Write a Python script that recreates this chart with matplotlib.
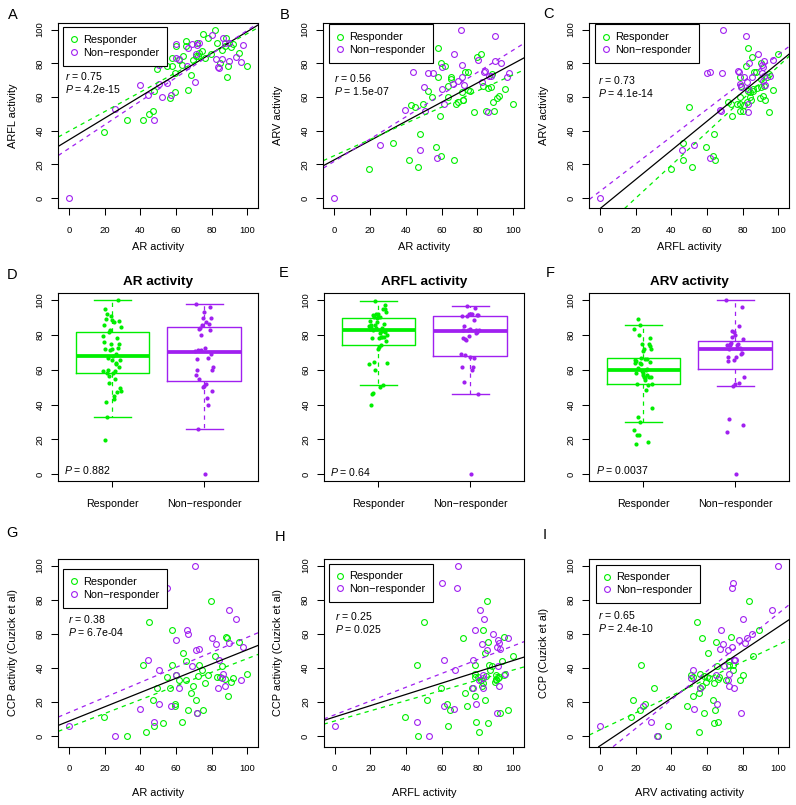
import numpy as np
import matplotlib
matplotlib.use('Agg')
import matplotlib.pyplot as plt
from matplotlib.lines import Line2D

plt.rcParams['font.family'] = ['Liberation Sans', 'DejaVu Sans']
plt.rcParams['mathtext.fontset'] = 'custom'
plt.rcParams['mathtext.rm'] = 'Liberation Sans'
plt.rcParams['mathtext.it'] = 'Liberation Sans:italic'

GREEN = '#00EE00'
PURPLE = '#A020F0'

# ---------------- data (per patient) ----------------
resp_AR = [79.6, 44.9, 57.9, 88.0, 88.4, 95.1, 63.7, 81.8, 65.4, 57.9, 41.6, 72.8, 74.7, 85.6, 54.7,
           59.7, 61.8, 65.4, 72.1, 78.1, 83.1, 84.6, 87.5, 92.1, 100.0, 90.8, 76.0, 69.3, 56.6, 49.4,
           68.2, 89.3, 47.0, 71.3, 59.4, 59.2, 66.7, 74.9, 71.9, 19.5, 63.3, 52.4, 47.8, 43.1, 32.6]
resp_ARFL = [85.4, 49.8, 83.0, 94.8, 71.9, 86.0, 84.3, 99.8, 93.5, 78.3, 46.3, 86.2, 87.2, 88.1, 78.7,
             90.5, 82.0, 90.2, 84.6, 94.9, 91.9, 80.2, 90.1, 91.5, 78.7, 89.9, 83.2, 82.2, 59.6, 76.7,
             73.2, 78.5, 51.5, 84.3, 63.1, 74.0, 64.4, 97.2, 92.3, 39.5, 79.0, 86.0, 63.7, 80.9, 46.6]
resp_ARV = [83.7, 54.3, 89.3, 73.4, 57.1, 64.8, 60.3, 85.8, 72.1, 72.1, 22.7, 74.7, 74.7, 65.4, 59.9,
            80.0, 78.3, 70.6, 58.3, 51.0, 66.8, 52.0, 66.2, 60.9, 55.9, 59.3, 63.8, 56.9, 30.1, 55.9,
            55.6, 51.9, 18.5, 63.1, 25.3, 48.5, 22.5, 64.4, 58.2, 17.4, 66.3, 63.7, 37.8, 55.2, 32.6]
resp_CCP = [79.5, 67.1, 62.2, 58.3, 57.7, 55.1, 48.8, 46.9, 44.3, 41.9, 41.5, 41.9, 39.0, 40.9, 34.8,
            35.6, 32.7, 33.1, 35.4, 36.0, 34.6, 35.0, 33.7, 34.4, 36.6, 31.7, 31.3, 29.5, 28.5, 28.5,
            25.2, 23.8, 21.1, 21.1, 18.9, 17.7, 15.6, 15.4, 13.4, 11.4, 8.1, 7.5, 6.1, 2.4, 0.0]

non_AR = [70.8, 52.1, 54.9, 89.9, 93.4, 66.1, 66.7, 80.1, 60.1, 72.7, 71.2, 82.6, 89.9, 97.8, 44.0, 84.1,
          69.1, 50.6, 59.9, 86.5, 85.6, 61.4, 87.5, 83.5, 96.3, 50.2, 57.1, 39.5, 71.5, 47.8, 0.0, 25.7]
non_ARFL = [68.9, 59.9, 68.5, 81.6, 83.7, 78.5, 88.8, 96.8, 91.4, 92.3, 85.4, 82.6, 91.9, 90.9, 61.4, 77.2,
            91.6, 67.6, 83.0, 95.3, 82.8, 82.8, 91.9, 77.7, 81.0, 79.2, 61.4, 67.0, 91.0, 46.1, 0.0, 52.8]
non_ARV = [100.0, 74.3, 74.2, 96.4, 80.1, 67.6, 85.4, 82.2, 77.9, 67.4, 71.7, 69.1, 81.5, 74.0, 75.0, 75.5,
           69.7, 51.9, 64.8, 72.3, 50.9, 56.0, 72.5, 74.9, 72.0, 65.7, 24.0, 52.4, 78.8, 28.5, 0.0, 31.8]
non_CCP = [100.0, 89.6, 86.6, 73.8, 68.7, 62.0, 59.6, 57.3, 56.3, 51.2, 50.4, 54.3, 54.7, 52.2, 44.5, 44.5,
           40.9, 39.0, 36.0, 36.6, 34.3, 28.5, 29.5, 28.0, 32.7, 18.9, 17.9, 16.1, 13.6, 8.5, 5.9, 0.4]

group_labels = ['Responder', 'Non\u2212responder']
scatter_stats = {'A': ('0.75', '4.2e-15'), 'B': ('0.56', '1.5e-07'), 'C': ('0.73', '4.1e-14'),
                 'G': ('0.38', '6.7e-04'), 'H': ('0.25', '0.025'), 'I': ('0.65', '2.4e-10')}
box_pvalues = {'D': '0.882', 'E': '0.64', 'F': '0.0037'}
ticks = [0, 20, 40, 60, 80, 100]

# ---------------- layout helpers ----------------
W, H = 796, 805
fig = plt.figure(figsize=(W / 100, H / 100), dpi=100)


def rect(l, t, r, b):
    return [l / W, 1 - b / H, (r - l) / W, (b - t) / H]


def fx(x):
    return x / W


def fy(y):
    return 1 - y / H


TICK_FS = 6.8
LAB_FS = 7.9
DASH = (3.4, 3.4)


def style_axes(ax):
    for s in ax.spines.values():
        s.set_linewidth(0.8)
        s.set_color('black')
    ax.tick_params(direction='out', length=4.8, width=0.75, labelsize=TICK_FS, colors='black')
    ax.tick_params(axis='x', pad=8.0)
    ax.tick_params(axis='y', pad=5.0)
    ax.set_yticks(ticks)
    for lab in ax.get_yticklabels():
        lab.set_rotation(90)
        lab.set_va('center')


def scatter_panel(letter, box, xr, yr, xn, yn, xlabel, ylabel, xlab_y, ylab_x, letter_xy, leg_xy, stat_xy):
    l, t, r, b = box
    ax = fig.add_axes(rect(*box))
    xr = np.asarray(xr); yr = np.asarray(yr); xn = np.asarray(xn); yn = np.asarray(yn)
    ax.plot(xr, yr, 'o', ls='none', mfc='none', mec=GREEN, ms=4.2, mew=0.8)
    ax.plot(xn, yn, 'o', ls='none', mfc='none', mec=PURPLE, ms=4.2, mew=0.8)
    xa = np.concatenate([xr, xn]); ya = np.concatenate([yr, yn])
    for x, y, c, dashed in [(xa, ya, 'black', False), (xr, yr, GREEN, True), (xn, yn, PURPLE, True)]:
        slope, icpt = np.polyfit(x, y, 1)
        ln = ax.axline((0, icpt), slope=slope, color=c, lw=0.9)
        if dashed:
            ln.set_dashes(DASH)
    ax.set_xlim(-6.16, 106.16)
    ax.set_ylim(-6.1, 104.1)
    ax.set_xticks(ticks)
    style_axes(ax)
    fig.text(fx((l + r) / 2), fy(xlab_y), xlabel, fontsize=LAB_FS, ha='center', va='center')
    fig.text(fx(ylab_x), fy((t + b) / 2), ylabel, fontsize=LAB_FS, ha='center', va='center', rotation=90)
    fig.text(fx(letter_xy[0]), fy(letter_xy[1]), letter, fontsize=10.5, ha='center', va='center')
    handles = [Line2D([], [], marker='o', ls='none', mfc='none', mec=GREEN, ms=4.2, mew=0.8),
               Line2D([], [], marker='o', ls='none', mfc='none', mec=PURPLE, ms=4.2, mew=0.8)]
    leg = ax.legend(handles, group_labels, loc='upper left', bbox_to_anchor=(fx(leg_xy[0]), fy(leg_xy[1])),
                    bbox_transform=fig.transFigure, borderaxespad=0, frameon=True, fancybox=False,
                    edgecolor='black', fontsize=LAB_FS, handlelength=0.6, handletextpad=0.5,
                    borderpad=0.72, labelspacing=0.25, framealpha=1)
    leg.get_frame().set_linewidth(0.8)
    rv, pv = scatter_stats[letter]
    fig.text(fx(stat_xy[0]), fy(stat_xy[1]), r'$\it{r}$ = ' + rv, fontsize=7.6, ha='left', va='center')
    fig.text(fx(stat_xy[0]), fy(stat_xy[1] + 13), r'$\it{P}$ = ' + pv, fontsize=7.6, ha='left', va='center')
    return ax


def tukey_stats(vals):
    v = np.sort(np.asarray(vals, dtype=float))
    n = len(v)
    n4 = np.floor((n + 3) / 2) / 2
    d = np.array([1, n4, (n + 1) / 2, n + 1 - n4, n])
    q = 0.5 * (v[np.floor(d).astype(int) - 1] + v[np.ceil(d).astype(int) - 1])
    q1, med, q3 = q[1], q[2], q[3]
    iqr = q3 - q1
    wlo = v[v >= q1 - 1.5 * iqr].min()
    whi = v[v <= q3 + 1.5 * iqr].max()
    return dict(med=med, q1=q1, q3=q3, whislo=wlo, whishi=whi, fliers=[])


def box_panel(letter, box, vr, vn, title, letter_xy, p_xy):
    l, t, r, b = box
    ax = fig.add_axes(rect(*box))
    stats = [tukey_stats(vr), tukey_stats(vn)]
    art = ax.bxp(stats, positions=[1, 2], widths=0.8, showfliers=False, capwidths=0.4,
                 patch_artist=False, manage_ticks=False)
    for i, c in enumerate([GREEN, PURPLE]):
        art['boxes'][i].set_color(c); art['boxes'][i].set_linewidth(1.0)
        art['medians'][i].set_color(c); art['medians'][i].set_linewidth(2.7)
        art['medians'][i].set_solid_capstyle('butt')
        for w in art['whiskers'][2 * i:2 * i + 2]:
            w.set_color(c); w.set_linewidth(0.9); w.set_dashes(DASH)
        for cp in art['caps'][2 * i:2 * i + 2]:
            cp.set_color(c); cp.set_linewidth(1.0)
    for pos, vals, c in [(1, vr, GREEN), (2, vn, PURPLE)]:
        vals = np.asarray(vals)
        n = len(vals)
        offs = ((np.arange(n) * 0.6180339887) % 1.0 - 0.5) * 0.2
        ax.plot(pos + offs, vals, 'o', ls='none', color=c, ms=3.0, mew=0)
    ax.set_xlim(0.413, 2.587)
    ax.set_ylim(-4, 104)
    style_axes(ax)
    ax.set_xticks([1, 2])
    ax.set_xticklabels(group_labels, fontsize=7.7)
    ax.tick_params(axis='x', length=4.1, pad=8.5)
    fig.text(fx((l + r) / 2), fy(281.7), title, fontsize=9.7, fontweight='bold', ha='center', va='center')
    fig.text(fx(letter_xy[0]), fy(letter_xy[1]), letter, fontsize=10.5, ha='center', va='center')
    fig.text(fx(p_xy[0]), fy(p_xy[1]), r'$\it{P}$ = ' + box_pvalues[letter], fontsize=7.6, ha='left', va='center')
    return ax


# ---------------- row 1 ----------------
R1 = (22.7, 208.5)
scatter_panel('A', (58.3, R1[0], 258.3, R1[1]), resp_AR, resp_ARFL, non_AR, non_ARFL,
              'AR activity', 'ARFL activity', 247.3, 13.3, (13, 15), (63.3, 27), (65, 76))
scatter_panel('B', (323.3, R1[0], 524.3, R1[1]), resp_AR, resp_ARV, non_AR, non_ARV,
              'AR activity', 'ARV activity', 247.3, 278.3, (285, 15), (329.3, 24.5), (334.3, 77.7))
scatter_panel('C', (589.3, R1[0], 789.3, R1[1]), resp_ARFL, resp_ARV, non_ARFL, non_ARV,
              'ARFL activity', 'ARV activity', 247.3, 544, (548.3, 14), (595.3, 24.5), (598.3, 80))

# ---------------- row 2 ----------------
R2 = (293.3, 481)
box_panel('D', (58.3, R2[0], 258.3, R2[1]), resp_AR, non_AR, 'AR activity', (11.7, 275), (64.3, 470))
box_panel('E', (324.3, R2[0], 524.3, R2[1]), resp_ARFL, non_ARFL, 'ARFL activity', (283.3, 273.3), (330, 471.5))
box_panel('F', (589.3, R2[0], 789.3, R2[1]), resp_ARV, non_ARV, 'ARV activity', (550, 273.3), (595.7, 470))

# ---------------- row 3 ----------------
R3 = (558.5, 746.7)
scatter_panel('G', (58.3, R3[0], 258.3, R3[1]), resp_AR, resp_CCP, non_AR, non_CCP,
              'AR activity', 'CCP activity (Cuzick et al)', 793.3, 13.3, (11.7, 533.3), (63.3, 569), (68.3, 619.3))
scatter_panel('H', (323.7, R3[0], 524.3, R3[1]), resp_ARFL, resp_CCP, non_ARFL, non_CCP,
              'ARFL activity', 'CCP activity (Cuzick et al)', 793.3, 278.3, (280, 536.7), (329.3, 563.5), (335, 616))
scatter_panel('I', (589.3, R3[0], 789.3, R3[1]), resp_ARV, resp_CCP, non_ARV, non_CCP,
              'ARV activating activity', 'CCP (Cuzick et al)', 793.3, 544, (545, 535), (595.7, 564.5), (598.3, 615))

fig.savefig('out.png', dpi=100)
